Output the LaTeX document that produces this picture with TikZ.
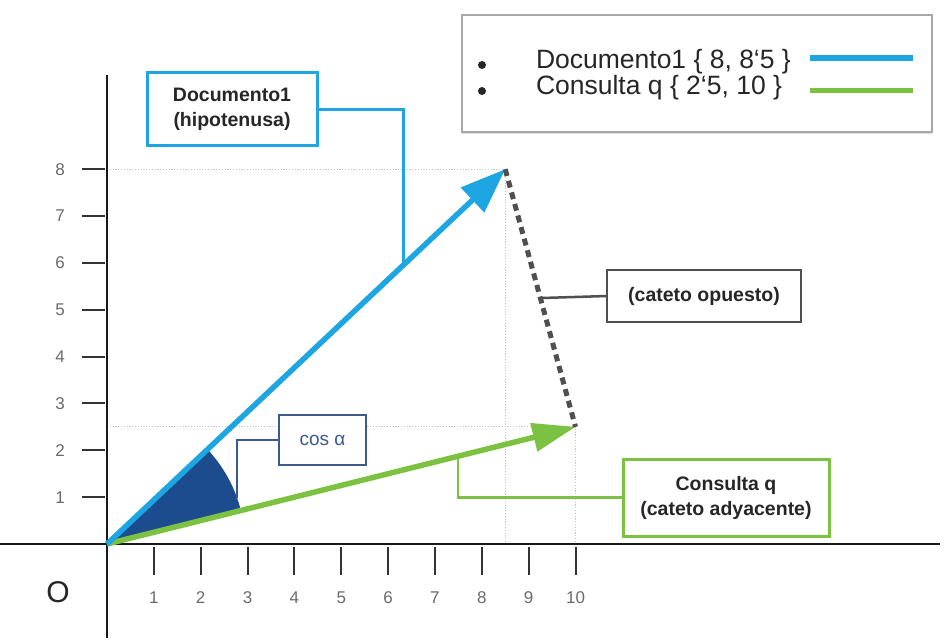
\documentclass[tikz,border=0pt]{standalone}
\usepackage{fontspec}
\setmainfont{Liberation Sans}
\usetikzlibrary{arrows.meta,calc,shadows}

\definecolor{vecblue}{HTML}{1DA6E2}
\definecolor{vecgreen}{HTML}{7CC242}
\definecolor{angblue}{HTML}{1C4C8E}
\definecolor{cosblue}{HTML}{3A5A90}
\definecolor{catgray}{HTML}{4F4F4F}
\definecolor{guide}{HTML}{CBC3CB}
\definecolor{ticklab}{HTML}{6A6A6A}
\definecolor{legendgray}{HTML}{A8A8A8}

\begin{document}
\begin{tikzpicture}[x=1pt,y=-1pt,
  every node/.style={inner sep=0pt, outer sep=0pt},
  axis/.style={line width=2pt, black!90},
  tickmark/.style={line width=2pt, black!80},
  ticklabel/.style={text=ticklab, font=\fontsize{17}{20}\selectfont},
  guideline/.style={guide, line width=0.9pt, dash pattern=on 1.2pt off 1.6pt},
  vector/.style={line width=5.5pt},
  callout/.style={draw, fill=white, align=center,
    font=\fontsize{19.5}{25}\selectfont\bfseries, text=black!85},
  leader/.style={line width=2.5pt},
  legendtext/.style={anchor=west, font=\fontsize{26.5}{29}\selectfont, text=black!85}
]
\useasboundingbox (0,0) rectangle (946,641);

% axes
\coordinate (xl) at (0,544);
\coordinate (xr) at (940,544);
\coordinate (yt) at (107,75);
\coordinate (yb) at (107,638);

% data frame: origin at (107,544), one unit = 46.85px
\begin{scope}[shift={(107,544)}, x=46.85pt, y=46.85pt]
  \coordinate (O) at (0,0);
  \coordinate (D) at (8.5,8);
  \coordinate (Q) at (10,2.5);

  % guide lines to the vector tips
  \draw[guideline] (0,8) -| (8.5,0);
  \draw[guideline] (0,2.5) -| (10,0);

  % ticks and tick labels
  \foreach \i in {1,...,10}
    \draw[tickmark] (\i,-0.065) -- (\i,-0.66)
      node[ticklabel] (xt\i) at (\i,-1.153) {\i};
  \foreach \j in {1,...,8}
    \draw[tickmark] (-0.045,\j) -- (-0.534,\j)
      node[ticklabel] (yt\j) at (-1.003,\j) {\j};
\end{scope}

\draw[axis] (xl) -- (xr);
\draw[axis] (yt) -- (yb);

% angle between the two vectors
\fill[angblue] (O) -- ($(O)+(14.04:138pt)$)
  arc[start angle=14.04, end angle=43.26, radius=138pt] -- cycle;

% vectors
\draw[vector, vecgreen, -{Triangle[length=43pt,width=28pt]}] (O) -- (Q);
\draw[vector, vecblue, -{Triangle[length=45pt,width=33pt]}] (O) -- (D);
\draw[catgray, line width=5pt, dash pattern=on 7pt off 5pt] (D) -- (Q);

% attachment points of the leaders
\coordinate (hyp) at ($(O)!0.744!(D)$);
\coordinate (adj) at ($(O)!0.749!(Q)$);
\coordinate (opp) at ($(D)!0.5!(Q)$);
\coordinate (angpt) at ($(O)+(19.6:138pt)$);

% callouts
\node[callout, draw=vecblue, line width=3pt, minimum width=170pt, minimum height=73pt]
  (docbox) at (232,109) {Documento1\\(hipotenusa)};
\node[callout, draw=cosblue, line width=2.5pt, minimum width=87pt, minimum height=50pt,
  font=\fontsize{19}{22}\selectfont, text=cosblue]
  (cosbox) at (322.5,440) {cos α};
\node[callout, draw=catgray, line width=2.5pt, minimum width=194pt, minimum height=52pt]
  (catbox) at (704,296) {(cateto opuesto)};
\node[callout, draw=vecgreen, line width=3pt, minimum width=206pt, minimum height=77pt]
  (conbox) at (726,497.5) {Consulta q\\(cateto adyacente)};

\draw[leader, vecblue, line width=3pt] (docbox.east) -| (hyp);
\draw[leader, cosblue] (cosbox.west) -| (angpt);
\draw[leader, catgray] (catbox.west) -- (opp);
\draw[leader, vecgreen] (conbox.west) -| (adj);

% origin label
\node[font=\fontsize{30}{34}\selectfont, text=black!85] (olabel) at (58,592) {O};

% legend
\node[draw=legendgray, line width=2pt, fill=white, minimum width=470pt, minimum height=117pt,
  drop shadow={shadow xshift=0.5pt, shadow yshift=-2pt, opacity=0.25}]
  (legend) at (696.5,73) {};
\fill[black!85] (482,65) circle (4pt);
\fill[black!85] (482,91) circle (4pt);
\node[legendtext] (leg1) at (536,62) {Documento1 \{ 8, 8\symbol{96}5 \}};
\node[legendtext] (leg2) at (536,88) {Consulta q \{ 2\symbol{96}5, 10 \}};
\coordinate (sw1a) at (810,58);
\coordinate (sw1b) at (913,58);
\coordinate (sw2a) at (810,90);
\coordinate (sw2b) at (913,90);
\draw[vecblue, line width=6pt] (sw1a) -- (sw1b);
\draw[vecgreen, line width=5pt] (sw2a) -- (sw2b);
\end{tikzpicture}
\end{document}
